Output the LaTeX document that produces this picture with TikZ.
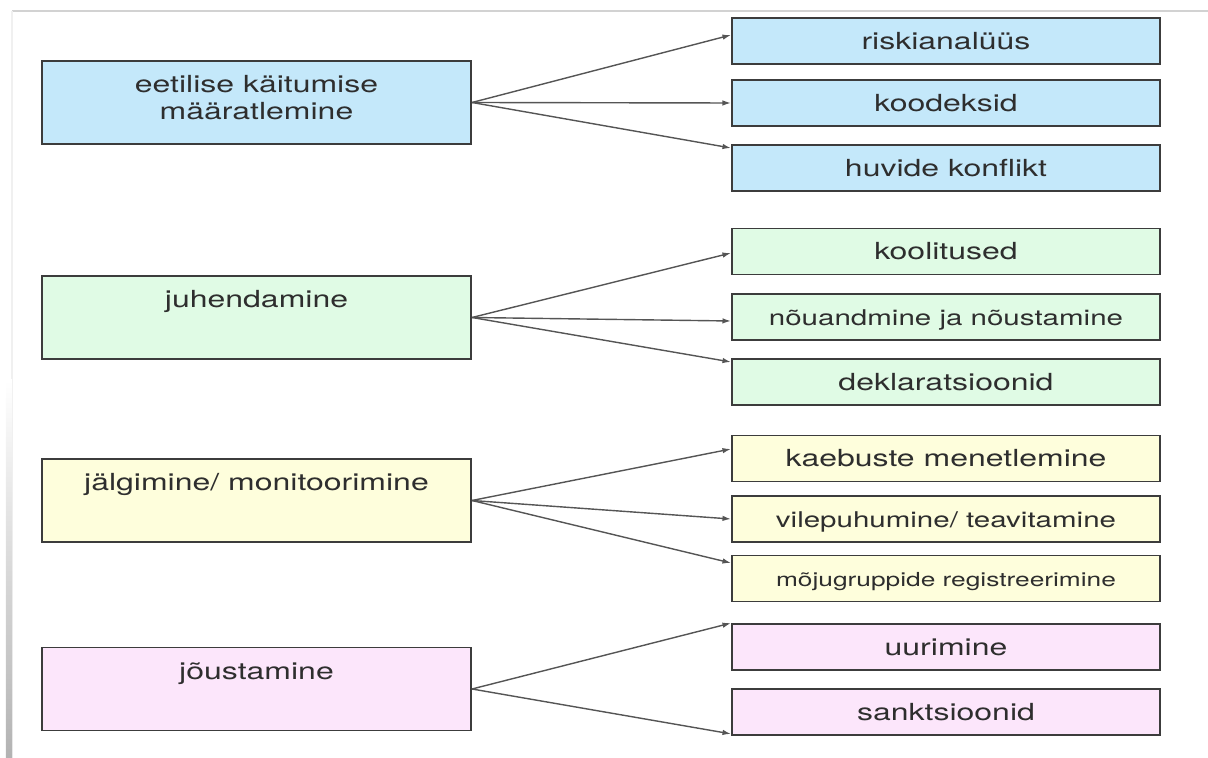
\documentclass[tikz,border=0pt]{standalone}
\usepackage{fontspec}
\newfontfamily\boxfont{TeX Gyre Heros}[FakeStretch=1.36]
\usepackage{tikz}
\usetikzlibrary{arrows.meta}
\definecolor{skyfill}{RGB}{196,232,250}
\definecolor{mintfill}{RGB}{224,251,229}
\definecolor{creamfill}{RGB}{254,254,220}
\definecolor{lilacfill}{RGB}{252,230,251}
\definecolor{edgegray}{RGB}{60,60,60}
\definecolor{linkgray}{RGB}{85,85,85}
\definecolor{textgray}{RGB}{46,46,46}

\begin{document}
\begin{tikzpicture}[x=0.01cm,y=-0.01cm,>={Latex[length=0.085cm,width=0.055cm]},
    box/.style={draw=edgegray,line width=0.5pt,inner sep=0pt,text=textgray,
        font=\boxfont\fontsize{6.69pt}{7.4pt}\selectfont},
    main/.style={box,minimum width=4.29cm,minimum height=0.83cm,align=center,
        text height=0.169cm,text depth=0.36cm},
    twoline/.style={text height=0.43cm,text depth=0.1cm},
    item/.style={box,minimum width=4.28cm,minimum height=0.46cm,
        text height=0.169cm,text depth=0cm},
    smaller/.style={font=\boxfont\fontsize{6.17pt}{7pt}\selectfont},
    smallest/.style={font=\boxfont\fontsize{5.5pt}{6.5pt}\selectfont},
    link/.style={->,draw=linkgray,line width=0.4pt}]
    \useasboundingbox (0,0) rectangle (1208,758);
    \draw[gray!35,line width=0.6pt] (12,11) -- (1208,11);
    \draw[gray!12,line width=0.6pt] (12,11) -- (12,758);
    \shade[top color=white,bottom color=gray!60] (6,380) rectangle (12,758);

    \node[main,twoline,fill=skyfill] (define) at (256.5,102.5) {eetilise käitumise\\määratlemine};
    \node[item,fill=skyfill] (risk) at (946,41) {riskianalüüs};
    \node[item,fill=skyfill] (codes) at (946,103) {koodeksid};
    \node[item,fill=skyfill] (conflict) at (946,168) {huvide konflikt};

    \node[main,fill=mintfill] (guide) at (256.5,317.5) {juhendamine};
    \node[item,fill=mintfill] (train) at (946,251.5) {koolitused};
    \node[item,fill=mintfill,smaller] (advice) at (946,317) {nõuandmine ja nõustamine};
    \node[item,fill=mintfill] (declare) at (946,382) {deklaratsioonid};

    \node[main,fill=creamfill] (monitor) at (256.5,500.5) {jälgimine/ monitoorimine};
    \node[item,fill=creamfill] (complaint) at (946,458.5) {kaebuste menetlemine};
    \node[item,fill=creamfill,smaller] (whistle) at (946,519) {vilepuhumine/ teavitamine};
    \node[item,fill=creamfill,smallest] (lobby) at (946,578.5) {mõjugruppide registreerimine};

    \node[main,fill=lilacfill] (enforce) at (256.5,689) {jõustamine};
    \node[item,fill=lilacfill] (probe) at (946,647) {uurimine};
    \node[item,fill=lilacfill] (sanction) at (946,712) {sanktsioonid};

    \draw[link] (define.east) -- ([yshift=0.06cm]risk.west);
    \draw[link] (define.east) -- (codes.west);
    \draw[link] (define.east) -- ([yshift=0.2cm]conflict.west);
    \draw[link] (guide.east) -- ([yshift=-0.015cm]train.west);
    \draw[link] (guide.east) -- ([yshift=-0.04cm]advice.west);
    \draw[link] (guide.east) -- ([yshift=0.2cm]declare.west);
    \draw[link] (monitor.east) -- ([yshift=0.095cm]complaint.west);
    \draw[link] (monitor.east) -- (whistle.west);
    \draw[link] (monitor.east) -- ([yshift=0.155cm]lobby.west);
    \draw[link] (enforce.east) -- (probe.north west);
    \draw[link] (enforce.east) -- ([yshift=0.02cm]sanction.south west);
\end{tikzpicture}
\end{document}
